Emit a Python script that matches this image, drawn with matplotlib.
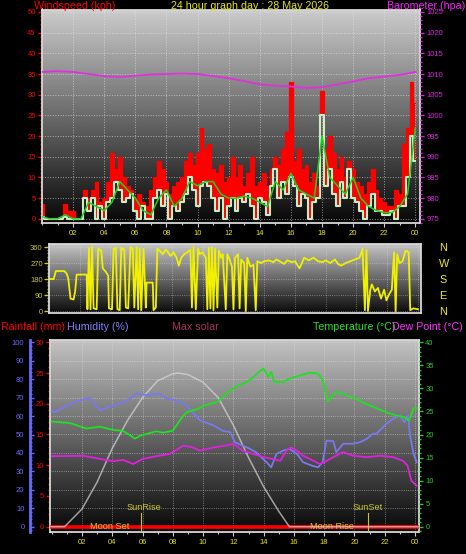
import numpy as np
import matplotlib
matplotlib.use("Agg")
import matplotlib.pyplot as plt
from matplotlib.ticker import MultipleLocator

plt.rcParams["font.family"] = ["Liberation Sans", "DejaVu Sans"]

# ---- wind (15 min samples) ----
wind_hours = np.arange(0, 24.01, 0.25)
gust_kph = [3.5, 0, 0, 0, 0, 0, 3.5, 2, 2, 0, 0, 7, 5, 7, 9, 4, 5, 9, 16, 12,
            15, 10, 8, 7, 5, 6, 4, 3, 7, 10, 14, 12, 9, 6, 8, 9, 10, 14, 16, 13,
            16, 22, 17, 18, 12, 11, 13, 9, 10, 15, 10, 13, 8, 11, 15, 8, 9, 11, 8, 12,
            15, 13, 17, 21, 33, 14, 17, 12, 13, 9, 11, 8, 31, 17, 20, 16, 12, 15, 10, 14,
            12, 9, 8, 6, 9, 12, 7, 5, 4, 3, 3, 7, 6, 18, 22, 33, 28]
speed_kph = [0.5, 0, 0, 0, 0, 0, 0.5, 0, 0, 0, 0, 5, 2, 5, 0, 3, 0, 4, 5, 9,
             7, 4, 5, 6, 2, 0, 3, 0, 0, 5, 7, 3, 6, 0, 3, 2, 4, 6, 10, 7,
             3, 8, 9, 8, 5, 2, 5, 0, 3, 5, 2, 5, 4, 6, 3, 0, 5, 4, 1, 8,
             12, 5, 9, 6, 10, 8, 3, 6, 5, 0, 4, 5, 25, 8, 12, 6, 3, 9, 5, 12,
             5, 4, 2, 0, 3, 6, 2, 2, 1, 1, 2, 0, 3, 3, 10, 20, 14]
avg_hours = np.arange(0, 24.01, 0.5)
avg_kph = [0.5, 0, 0, 1, 0, 0, 4, 3, 2, 4, 9, 7, 5, 2, 1, 5, 7, 3, 5, 9,
           8, 9, 9, 6, 5, 5, 5.5, 5, 4, 3, 9, 7, 11, 7, 6, 5, 20, 10, 8, 6,
           10, 5, 3, 2, 1.5, 1.5, 3, 6, 22]
baro_hours = list(range(25))
baro_hpa = [1010.5, 1010.7, 1010.5, 1010, 1009.5, 1009.3, 1009.6, 1009.9, 1010, 1010.1,
            1010, 1009.5, 1009, 1008.3, 1007.5, 1007.2, 1007, 1006.6, 1006.8, 1007.5,
            1008.2, 1009, 1009.4, 1009.8, 1010.5]

# ---- wind direction ----
dir_hours = [0.0, 0.3, 0.45, 1.0, 1.15, 1.25, 1.4, 1.6, 1.7, 1.8, 2.45, 2.5, 2.6, 2.7, 2.8, 2.9,
             3.1, 3.2, 3.4, 3.5, 3.7, 3.85, 3.9, 4.1, 4.2, 4.35, 4.45, 4.6, 4.7, 4.9, 5.0, 5.15,
             5.3, 5.45, 5.55, 5.7, 5.8, 5.9, 6.0, 6.15, 6.3, 6.35, 6.75, 6.8, 6.95, 7.05, 7.2,
             7.4, 7.6, 7.75, 7.9, 8.1, 8.3, 8.45, 8.6, 8.8, 9.0, 9.2, 9.3, 9.4, 9.55, 9.7, 9.8,
             10.0, 10.2, 10.3, 10.4, 10.5, 10.6, 10.7, 10.8, 10.95, 11.05, 11.2, 11.3, 11.5,
             11.6, 11.75, 11.9, 12.0, 12.1, 12.3, 12.4, 12.5, 12.7, 12.8, 12.9, 13.1, 13.3,
             13.45, 13.55, 13.8, 14.0, 14.3, 14.6, 14.8, 15.0, 15.3, 15.5, 15.8, 16.0, 16.3,
             16.6, 16.9, 17.2, 17.5, 17.8, 18.0, 18.3, 18.6, 18.8, 19.0, 19.3, 19.6, 19.9,
             20.2, 20.4, 20.55, 20.65, 20.75, 20.9, 21.0, 21.2, 21.4, 21.6, 21.8, 21.95, 22.1,
             22.3, 22.45, 22.55, 22.65, 22.8, 23.0, 23.2, 23.4, 23.5, 23.7, 24.0]
dir_deg = [180, 180, 225, 225, 210, 185, 70, 65, 110, 205, 205, 10, 355, 10, 360, 15,
           10, 350, 340, 240, 220, 200, 15, 10, 350, 355, 10, 5, 355, 345, 20, 15,
           360, 350, 20, 360, 10, 350, 5, 350, 20, 160, 160, 5, 20, 350, 340,
           320, 345, 330, 310, 330, 300, 255, 300, 320, 330, 345, 20, 360, 10, 350, 320,
           330, 300, 10, 355, 15, 360, 5, 350, 20, 340, 300, 320, 10,
           320, 290, 250, 10, 300, 320, 15, 290, 270, 0, 300, 250, 260,
           5, 280, 270, 280, 285, 275, 290, 280, 265, 285, 275, 280, 240,
           300, 285, 300, 280, 275, 285, 270, 290, 265, 255, 270, 280, 290,
           300, 350, 5, 345, 0, 120, 150, 110, 130, 70, 120, 60, 90,
           120, 330, 0, 320, 270, 280, 340, 330, 5, 15, 10]

# ---- temperature / humidity / dew point / solar / rain ----
temp_hours = [0, 1.2, 2.3, 3.2, 4.05, 4.7, 5.1, 5.5, 5.9, 6.25, 6.9, 7.35, 8.0, 8.6, 8.9, 9.6,
              10.2, 10.9, 11.8, 12.4, 13.1, 13.7, 14.0, 14.3, 14.5, 14.7, 15.3, 15.7, 16.4,
              17.0, 17.6, 17.9, 18.25, 18.8, 19.5, 20.1, 20.8, 21.45, 22.1, 22.8, 23.3, 23.6,
              23.9, 24.1]
temp_c = [22.8, 22.5, 21.3, 21.7, 21.0, 20.8, 20.0, 19.1, 19.8, 20.1, 20.7, 20.4, 20.8, 23.7,
          24.8, 25.5, 26.4, 27.0, 29.6, 30.7, 31.8, 33.6, 34.3, 32.5, 33.6, 31.4, 31.4, 32.1,
          32.8, 33.4, 33.2, 31.8, 27.2, 29.3, 28.5, 27.7, 26.6, 25.7, 24.8, 24.1, 23.7, 23.0,
          25.7, 25.7]
hum_hours = [0, 0.2, 1.0, 1.85, 2.5, 3.2, 4.05, 4.9, 5.6, 6.25, 7.1, 7.6, 8.2, 8.9, 9.3, 9.8,
             10.7, 11.3, 11.8, 12.1, 12.9, 13.5, 14.2, 14.5, 14.85, 15.3, 15.7, 16.2, 16.6,
             17.2, 17.6, 17.9, 18.15, 18.6, 18.8, 19.25, 19.9, 20.35, 20.8, 21.2, 21.45, 22.1,
             22.55, 23.0, 23.3, 23.55, 23.65, 23.9, 24.1]
hum_pct = [62.5, 62, 65.8, 68.5, 69.8, 63.1, 65.8, 68, 72.2, 71.3, 72.2, 69.5, 68.5, 65.8,
           62.2, 57.6, 54.9, 52, 51.3, 45.8, 43, 40.4, 34.9, 32.2, 39.5, 41.3, 42.2, 39.5, 35,
           33.1, 32.2, 35, 46.7, 46.4, 40.4, 45, 45, 45.8, 47.6, 50.4, 50.4, 55.8, 58.5, 60.4,
           56.7, 60.4, 50.4, 39.5, 35]
dew_hours = [0, 2.1, 3.2, 4.05, 4.7, 5.4, 6.0, 6.9, 7.8, 8.7, 9.3, 9.8, 10.7, 11.5, 12.0, 12.6,
             13.3, 14.0, 14.6, 15.1, 15.5, 15.8, 16.2, 16.6, 17.3, 17.7, 18.0, 18.6, 19.25,
             19.9, 20.8, 21.7, 22.55, 23.2, 23.5, 23.75, 24.1]
dew_c = [15.3, 15.4, 14.7, 14.2, 14.5, 13.6, 14.7, 15.3, 15.8, 17.6, 17.2, 16.5, 17.2, 17.6,
         18.0, 16.5, 15.8, 15.1, 14.7, 14.3, 16.5, 17.2, 16.5, 15.4, 14.3, 13.6, 14.0, 15.1,
         16.2, 15.4, 15.1, 15.4, 15.1, 14.3, 13.3, 10.0, 8.9]
solar_hours = [-0.1, 0.85, 1, 2, 3, 4, 5, 6, 7, 8, 8.35, 9, 10, 11, 12, 13, 14, 15, 15.7, 24.3]
solar_wm2 = [0, 0, 15, 115, 290, 510, 690, 840, 950, 995, 1000, 990, 940, 840, 660, 450, 260,
             100, 0, 0]
rain_hours = [-0.1, 24.3]
rain_mm = [0, 0]

sunrise_hour = 5.93
sunset_hour = 20.9
moonset_hour = 3.8
moonrise_hour = 18.5

hour_ticks = list(range(2, 25, 2))
hour_labels = ["%02d" % (h % 24) for h in hour_ticks]

W, H = 466, 554
fig = plt.figure(figsize=(W / 100, H / 100), dpi=100, facecolor="black")

YEL = "#e6e600"
OLIVE = "#c8c832"
GRID = "#e8e8e8"


def add_panel(left, top, right, bottom):
    ax = fig.add_axes([left / W, 1 - bottom / H, (right - left) / W, (bottom - top) / H])
    ax.set_facecolor("black")
    return ax


def shade(ax, x0, x1, y0, y1, top=0.8, bottom=0.03):
    grad = np.linspace(top, bottom, 256)[:, None]
    ax.imshow(grad, extent=[x0, x1, y0, y1], aspect="auto", cmap="gray",
              vmin=0, vmax=1, zorder=0, interpolation="bilinear")
    ax.set_xlim(x0, x1)
    ax.set_ylim(y0, y1)
    for s in ax.spines.values():
        s.set_color("#d8d8d8")
        s.set_linewidth(1.3)


def hour_axis(ax, labels=True):
    ax.set_xticks(hour_ticks)
    ax.set_xticklabels(hour_labels if labels else [])
    ax.xaxis.set_minor_locator(MultipleLocator(1))
    ax.tick_params(axis="x", which="both", colors="#d0d0d0", labelcolor=YEL,
                   labelsize=5.5, length=3, width=0.8, pad=2)
    ax.tick_params(axis="x", which="minor", length=1.5)


def hide_spines(ax):
    for s in ax.spines.values():
        s.set_visible(False)


def ftext(x, y, s, **kw):
    fig.text(x / W, 1 - y / H, s, va="center", fontsize=7.7, **kw)


# ================= panel 1 : wind speed + barometer =================
ax1 = add_panel(42, 9.5, 420, 223)
shade(ax1, 0, 24.3, -1, 50.6)
hour_axis(ax1)
ax1.set_yticks(range(0, 51, 5))
ax1.yaxis.set_minor_locator(MultipleLocator(1))
ax1.tick_params(axis="y", which="both", colors="red", labelsize=5.5, length=3, width=1, pad=1.5)
ax1.tick_params(axis="y", which="minor", length=1.5)
ax1.grid(True, which="major", color=GRID, linestyle=":", linewidth=0.7, alpha=0.6)

ax1.fill_between(wind_hours, speed_kph, gust_kph, step="mid", color="#ff0000", lw=0, zorder=2)
ax1.step(wind_hours, gust_kph, where="mid", color="#ff0000", lw=0.9, zorder=2)
ax1.step(wind_hours, speed_kph, where="mid", color="#c8efc8", lw=1.5, zorder=3)
ax1.plot(avg_hours, avg_kph, color="#20d020", lw=1.1, zorder=4)

ax1b = ax1.twinx()
hide_spines(ax1b)
ax1b.set_ylim(974, 1025.6)
ax1b.set_yticks(range(975, 1026, 5))
ax1b.yaxis.set_minor_locator(MultipleLocator(1))
ax1b.tick_params(axis="y", which="both", colors="#e020e0", labelsize=5.5, length=3, width=1, pad=1.5)
ax1b.tick_params(axis="y", which="minor", length=1.5)
ax1b.plot(baro_hours, baro_hpa, color="#e030e0", lw=1.3)

ftext(34, 6, "Windspeed (kph)", color="red", ha="left")
ftext(250, 6, "24 hour graph day : 28 May 2026", color=YEL, ha="center")
ftext(465, 6, "Barometer (hpa)", color="#ff20ff", ha="right")

# ================= panel 2 : wind direction =================
ax2 = add_panel(49, 244, 421, 313)
shade(ax2, 0, 24.2, -11, 377, top=0.78, bottom=0.04)
hour_axis(ax2, labels=False)
ax2.tick_params(axis="x", which="both", length=0)
ax2.set_yticks([0, 90, 180, 270, 360])
ax2.yaxis.set_minor_locator(MultipleLocator(18))
ax2.tick_params(axis="y", which="both", colors=OLIVE, labelsize=5.5, length=3.5, width=1, pad=1)
ax2.tick_params(axis="y", which="minor", length=1.8)
ax2.grid(True, which="major", color=GRID, linestyle=":", linewidth=0.6, alpha=0.5)
ax2.plot(dir_hours, dir_deg, color="#f0f000", lw=1.3, zorder=3)

ax2b = ax2.twinx()
hide_spines(ax2b)
ax2b.set_ylim(-11, 377)
ax2b.set_yticks([0, 90, 180, 270, 360])
ax2b.set_yticklabels(["N", "E", "S", "W", "N"])
ax2b.tick_params(axis="y", length=0, labelcolor="#f0f000", labelsize=7.8, pad=13)

# ================= panel 3 : rain / humidity / solar / temperature =================
ax3 = add_panel(50, 340, 419, 531.7)
shade(ax3, -0.11, 24.26, -0.81, 30.37, top=0.76, bottom=0.03)
hour_axis(ax3)
ax3.set_yticks(range(0, 31, 5))
ax3.yaxis.set_minor_locator(MultipleLocator(1))
ax3.tick_params(axis="y", which="both", colors="red", labelsize=5.5, length=3, width=1, pad=1.5)
ax3.tick_params(axis="y", which="minor", length=1.5)
ax3.grid(True, axis="x", which="major", color=GRID, linestyle=":", linewidth=0.6, alpha=0.6)
for lvl in range(10, 101, 10):
    ax3.axhline(lvl * 0.3, color=GRID, linestyle=":", linewidth=0.6, alpha=0.6, zorder=1)
ax3.plot(rain_hours, rain_mm, color="#ff0000", lw=2.6, zorder=3)
ax3.plot([sunrise_hour, sunrise_hour], [-0.8, 2.3], color=OLIVE, lw=0.8, zorder=4)
ax3.plot([sunset_hour, sunset_hour], [-0.8, 2.3], color=OLIVE, lw=0.8, zorder=4)
ax3.text(sunrise_hour + 0.15, 3.2, "SunRise", color=OLIVE, fontsize=6.6, ha="center", va="center", zorder=5)
ax3.text(sunset_hour, 3.2, "SunSet", color=OLIVE, fontsize=6.6, ha="center", va="center", zorder=5)
ax3.text(moonset_hour, 0, "Moon Set", color=OLIVE, fontsize=6.6, ha="center", va="center", zorder=5)
ax3.text(moonrise_hour, 0, "Moon Rise", color=OLIVE, fontsize=6.6, ha="center", va="center", zorder=5)

ax_s = ax3.twinx()
hide_spines(ax_s)
ax_s.set_ylim(-32.5, 1215)
ax_s.set_yticks([])
ax_s.plot(solar_hours, solar_wm2, color="#d8d8d8", lw=1.1, alpha=0.7)

ax_h = ax3.twinx()
hide_spines(ax_h)
ax_h.set_ylim(-2.7, 101.25)
ax_h.spines["left"].set_visible(True)
ax_h.spines["left"].set_position(("outward", 14.4))
ax_h.spines["left"].set_color("#6a6aff")
ax_h.spines["left"].set_linewidth(2)
ax_h.yaxis.tick_left()
ax_h.set_yticks(range(0, 101, 10))
ax_h.yaxis.set_minor_locator(MultipleLocator(2))
ax_h.tick_params(axis="y", which="both", colors="#6a6aff", labelsize=5.5, direction="in",
                 length=3, width=1, pad=4)
ax_h.tick_params(axis="y", which="minor", length=1.5)
ax_h.plot(hum_hours, hum_pct, color="#7878f0", lw=1.3)

ax_t = ax3.twinx()
hide_spines(ax_t)
ax_t.set_ylim(-1.08, 40.5)
ax_t.set_yticks(range(0, 41, 5))
ax_t.yaxis.set_minor_locator(MultipleLocator(1))
ax_t.tick_params(axis="y", which="both", colors="#20d020", labelsize=5.5, length=3, width=1, pad=1.5)
ax_t.tick_params(axis="y", which="minor", length=1.5)
ax_t.plot(dew_hours, dew_c, color="#e020e0", lw=1.3)
ax_t.plot(temp_hours, temp_c, color="#20e020", lw=1.3)

ftext(1, 327, "Rainfall (mm)", color="red", ha="left")
ftext(67, 327, "Humidity (%)", color="#8080ff", ha="left")
ftext(172, 327, "Max solar", color="#a83060", ha="left")
ftext(313, 327, "Temperature (\u00b0C)", color="#20e020", ha="left")
ftext(392, 327, "Dew Point (\u00b0C)", color="#ff30ff", ha="left")

fig.savefig("out.png", dpi=100, facecolor="black")
